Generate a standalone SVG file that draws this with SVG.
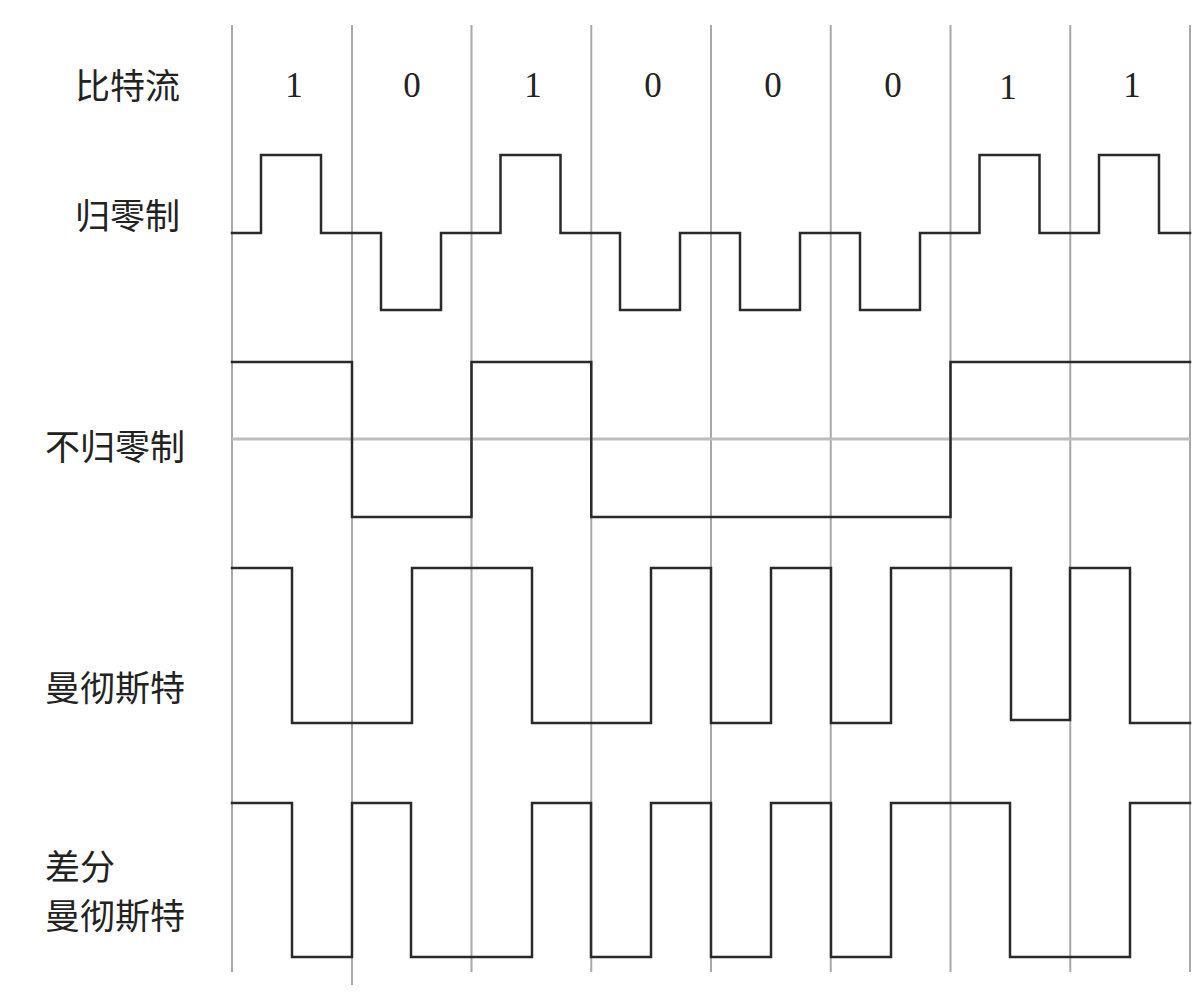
<svg xmlns="http://www.w3.org/2000/svg" width="1200" height="993" viewBox="0 0 1200 993">
<style>
.grid{stroke:#a8a8a8;stroke-width:2;fill:none}
.mid{stroke:#bdbdbd;stroke-width:3;fill:none}
.wave{stroke:#2a2a2a;stroke-width:2.5;fill:none;stroke-linejoin:miter;stroke-linecap:square}
.lbl{font-family:"Noto Sans CJK SC","Noto Sans",sans-serif;font-size:35px;fill:#222}
.bit{font-family:"Liberation Serif",serif;font-size:35px;fill:#222;text-anchor:middle}
</style>
<rect width="1200" height="993" fill="#fff"/>
<g id="grid">
<line class="grid" x1="232" y1="25" x2="232" y2="972"/>
<line class="grid" x1="352" y1="25" x2="352" y2="985"/>
<line class="grid" x1="471.5" y1="25" x2="471.5" y2="972"/>
<line class="grid" x1="591.25" y1="25" x2="591.25" y2="972"/>
<line class="grid" x1="711" y1="25" x2="711" y2="972"/>
<line class="grid" x1="830.75" y1="25" x2="830.75" y2="972"/>
<line class="grid" x1="950.5" y1="25" x2="950.5" y2="972"/>
<line class="grid" x1="1070.25" y1="25" x2="1070.25" y2="972"/>
<line class="grid" x1="1190" y1="25" x2="1190" y2="972"/>
</g>
<g id="bitstream">
<text class="lbl" x="75" y="99">比特流</text>
<text class="bit" x="294" y="97">1</text>
<text class="bit" x="412" y="97">0</text>
<text class="bit" x="533" y="97">1</text>
<text class="bit" x="653" y="97">0</text>
<text class="bit" x="773" y="97">0</text>
<text class="bit" x="893" y="97">0</text>
<text class="bit" x="1008" y="99">1</text>
<text class="bit" x="1132" y="97">1</text>
</g>
<g id="rz">
<text class="lbl" x="75" y="229">归零制</text>
<path class="wave" d="M232,233 H261 V155 H321 V233 H381 V310 H441 V233 H500.5 V155 H560.5 V233 H620 V310 H680 V233 H740 V310 H800 V233 H860 V310 H920 V233 H979.5 V155 H1039.5 V233 H1099 V155 H1159 V233 H1190"/>
</g>
<g id="nrz">
<text class="lbl" x="45" y="460">不归零制</text>
<line class="mid" x1="232" y1="439" x2="1190" y2="439"/>
<path class="wave" d="M232,362 H352 V517 H471.5 V362 H591.25 V517 H950.5 V362 H1190"/>
</g>
<g id="manchester">
<text class="lbl" x="45" y="701">曼彻斯特</text>
<path class="wave" d="M232,568 H292 V723 H412 V568 H532 V723 H651 V568 H711 V723 H771 V568 H831 V723 H891 V568 H1011 V720 H1070 V568 H1130 V723 H1190"/>
</g>
<g id="diff-manchester">
<text class="lbl" x="45" y="880">差分</text>
<text class="lbl" x="45" y="929">曼彻斯特</text>
<path class="wave" d="M232,803 H292 V957 H352 V803 H411 V957 H532 V803 H591 V957 H651 V803 H711 V957 H771 V803 H831 V957 H891 V803 H1010 V957 H1130 V803 H1190"/>
</g>
</svg>
